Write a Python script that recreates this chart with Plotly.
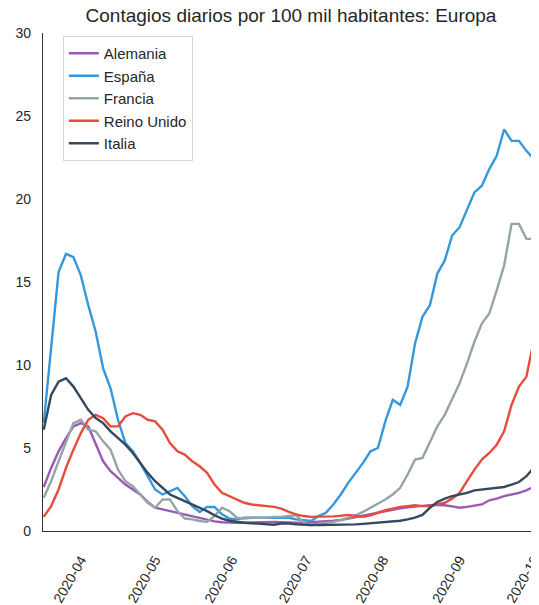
import pandas as pd
import plotly.graph_objects as go

# dates: every 3 days from 2020-03-21 to 2020-10-05, plus the last day 2020-10-06
fechas = list(pd.date_range("2020-03-21", "2020-10-05", freq="3D")) + [pd.Timestamp("2020-10-06")]

alemania = [2.65, 3.8, 4.8, 5.6, 6.3, 6.5, 6.3, 5.3, 4.2, 3.6, 3.2, 2.8, 2.5, 2.2, 1.75, 1.4,
            1.3, 1.2, 1.1, 1.0, 0.87, 0.78, 0.68, 0.58, 0.53, 0.5, 0.5, 0.5, 0.52, 0.53,
            0.55, 0.55, 0.53, 0.5, 0.5, 0.5, 0.52, 0.55, 0.58, 0.62, 0.66, 0.75, 0.85, 0.95,
            1.02, 1.1, 1.2, 1.3, 1.36, 1.42, 1.47, 1.52, 1.56, 1.57, 1.55, 1.48, 1.4, 1.45,
            1.52, 1.6, 1.85, 1.95, 2.1, 2.2, 2.3, 2.45, 2.65, 2.75]

espana = [6.5, 11.1, 15.6, 16.7, 16.5, 15.4, 13.6, 12.0, 9.8, 8.6, 6.7, 5.3, 4.8, 4.1, 3.3, 2.5,
          2.2, 2.4, 2.6, 2.1, 1.5, 1.15, 1.45, 1.45, 1.0, 0.75, 0.7, 0.8, 0.8, 0.8,
          0.8, 0.8, 0.8, 0.8, 0.7, 0.65, 0.6, 0.9, 1.1, 1.6, 2.2, 2.9, 3.5, 4.1,
          4.8, 5.0, 6.6, 7.9, 7.6, 8.7, 11.3, 12.9, 13.6, 15.5, 16.3, 17.8, 18.3, 19.3,
          20.4, 20.8, 21.8, 22.6, 24.2, 23.5, 23.5, 22.9, 22.4, 19.9]

francia = [2.0, 3.0, 4.2, 5.3, 6.5, 6.7, 6.1, 6.0, 5.4, 4.9, 3.7, 3.0, 2.7, 2.2, 1.7, 1.4,
           1.9, 1.9, 1.2, 0.75, 0.7, 0.6, 0.55, 0.9, 1.4, 1.2, 0.8, 0.75, 0.8, 0.8,
           0.8, 0.85, 0.85, 0.9, 0.95, 0.5, 0.35, 0.45, 0.5, 0.55, 0.65, 0.8, 0.95, 1.15,
           1.4, 1.6, 1.9, 2.2, 2.6, 3.4, 4.3, 4.4, 5.4, 6.3, 7.0, 7.9, 8.9, 10.1,
           11.4, 12.5, 13.1, 14.5, 16.0, 18.5, 18.5, 17.6, 17.6, 17.9]

reino_unido = [0.85, 1.5, 2.5, 3.8, 4.9, 5.9, 6.7, 7.0, 6.8, 6.3, 6.3, 6.9, 7.1, 7.0, 6.7, 6.6,
               6.1, 5.3, 4.8, 4.6, 4.2, 3.9, 3.5, 2.8, 2.3, 2.1, 1.9, 1.7, 1.6, 1.55,
               1.5, 1.45, 1.35, 1.15, 1.0, 0.9, 0.85, 0.85, 0.85, 0.88, 0.92, 0.97, 0.9, 0.85,
               0.95, 1.1, 1.25, 1.35, 1.45, 1.5, 1.55, 1.5, 1.5, 1.6, 1.7, 1.95, 2.3, 3.0,
               3.7, 4.3, 4.7, 5.2, 6.0, 7.6, 8.7, 9.3, 11.5, 16.1]

italia = [6.1, 8.2, 9.0, 9.2, 8.7, 8.0, 7.3, 6.8, 6.5, 6.0, 5.6, 5.2, 4.7, 4.1, 3.5, 3.0,
          2.6, 2.2, 2.0, 1.8, 1.6, 1.4, 1.2, 0.95, 0.75, 0.62, 0.55, 0.5, 0.47, 0.43,
          0.4, 0.38, 0.45, 0.45, 0.4, 0.37, 0.36, 0.36, 0.36, 0.36, 0.37, 0.38, 0.4, 0.43,
          0.46, 0.5, 0.53, 0.57, 0.62, 0.7, 0.8, 0.97, 1.4, 1.75, 1.95, 2.1, 2.2, 2.3,
          2.45, 2.5, 2.55, 2.6, 2.65, 2.8, 2.95, 3.3, 3.8, 4.0]

paises = ["Alemania", "España", "Francia", "Reino Unido", "Italia"]
series = [alemania, espana, francia, reino_unido, italia]
colores = ["#9b59b6", "#3498db", "#95a5a6", "#e74c3c", "#34495e"]

y_ticks = [0, 5, 10, 15, 20, 25, 30]

FONT = "Liberation Sans, Arial, sans-serif"
TXT = "#262626"

fig = go.Figure()
for nombre, vals, col in zip(paises, series, colores):
    fig.add_trace(go.Scatter(x=fechas, y=vals, mode="lines", name=nombre,
                             legendgroup=nombre,
                             line=dict(color=col, width=2.4)))

# page body has an 8px margin, so the figure is placed at (8, 8)
fig.update_layout(
    width=531, height=597,
    margin=dict(l=35, r=0, t=25, b=74, autoexpand=False),
    paper_bgcolor="white", plot_bgcolor="white",
    font=dict(family=FONT, size=14, color=TXT),
    title=dict(text="Contagios diarios por 100 mil habitantes: Europa",
               x=0.5, xref="paper", xanchor="center",
               y=1 - 1 / 597, yref="container", yanchor="top", pad=dict(t=0, b=0),
               font=dict(size=19, color=TXT)),
    showlegend=True,
    legend=dict(x=0.04, y=0.994, xanchor="left", yanchor="top",
                bgcolor="white", bordercolor="#d6d6d6", borderwidth=1,
                font=dict(size=15, color=TXT), tracegroupgap=0),
    xaxis=dict(range=["2020-03-20 17:00", "2020-10-07 02:00"],
               dtick="M1", tick0="2020-04-01", tickformat="%Y-%m",
               tickangle=-60, ticklabelshift=10, ticklabelstandoff=14,
               ticklabeloverflow="allow",
               showgrid=False, zeroline=False, automargin=False,
               showline=True, linecolor="#333333", linewidth=1.3,
               tickfont=dict(size=14, color=TXT)),
    yaxis=dict(range=[0, 30], tickvals=y_ticks,
               showgrid=False, zeroline=False, automargin=False,
               showline=True, linecolor="#333333", linewidth=1.3,
               ticklabelstandoff=8,
               tickfont=dict(size=14, color=TXT)),
)

# keep the page from scrolling so no scrollbar narrows the view
fig.write_html("out.html",
               post_script="document.documentElement.style.overflow='hidden';")
